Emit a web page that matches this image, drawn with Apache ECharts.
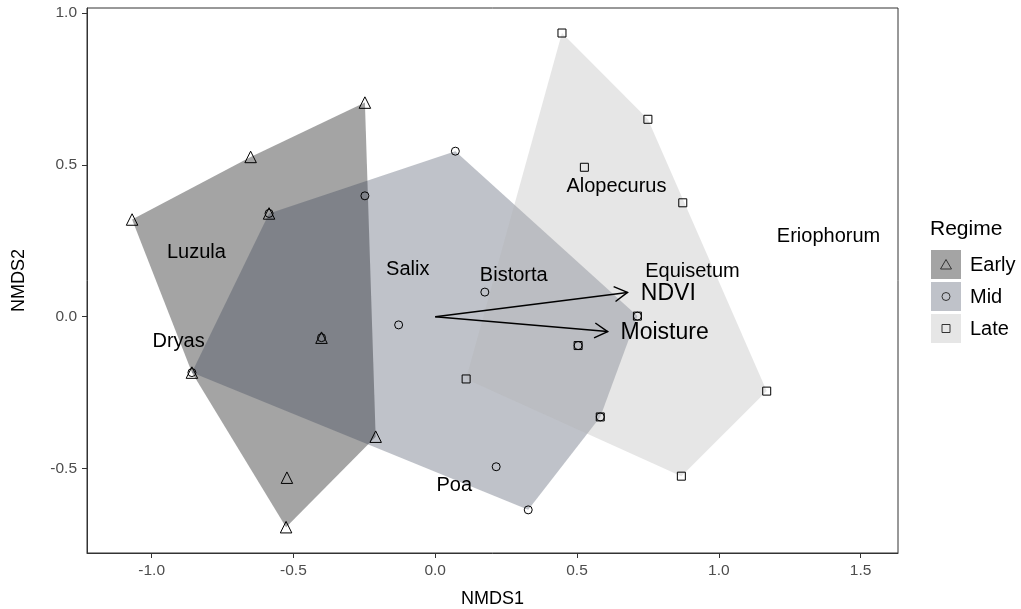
<!DOCTYPE html>
<html>
<head>
<meta charset="utf-8">
<script src="https://cdn.jsdelivr.net/npm/echarts@6/dist/echarts.min.js"></script>
<style>
  html, body { margin: 0; padding: 0; background: #fff; }
  #chart { width: 1021px; height: 609px; }
</style>
</head>
<body>
<div id="chart"></div>
<script>
// Site scores (NMDS1, NMDS2) by regime
const earlyX = [-1.069, -0.651, -0.248, -0.586, -0.401, -0.858, -0.210, -0.523, -0.526];
const earlyY = [0.320, 0.526, 0.705, 0.340, -0.069, -0.184, -0.395, -0.530, -0.693];
const midX = [-0.586, -0.858, -0.401, -0.248, 0.071, -0.129, 0.175, 0.215, 0.328, 0.713, 0.582, 0.504];
const midY = [0.340, -0.184, -0.069, 0.398, 0.545, -0.027, 0.081, -0.494, -0.636, 0.002, -0.330, -0.095];
const lateX = [0.447, 0.750, 0.526, 0.873, 0.713, 0.504, 0.109, 0.582, 1.169, 0.868];
const lateY = [0.934, 0.650, 0.492, 0.375, 0.002, -0.095, -0.205, -0.330, -0.245, -0.525];

// Species scores
const speciesNames = ['Luzula', 'Dryas', 'Salix', 'Bistorta', 'Alopecurus', 'Equisetum', 'Eriophorum', 'Poa'];
const speciesX = [-0.842, -0.905, -0.097, 0.277, 0.639, 0.907, 1.387, 0.067];
const speciesY = [0.211, -0.082, 0.154, 0.137, 0.428, 0.148, 0.265, -0.557];

// Environmental vectors
const vectorNames = ['NDVI', 'Moisture'];
const vectorX = [0.678, 0.608];
const vectorY = [0.080, -0.049];
const vectorLabelX = [0.822, 0.809];
const vectorLabelY = [0.077, -0.053];

// Axis ticks
const xTicks = [-1.0, -0.5, 0.0, 0.5, 1.0, 1.5];
const yTicks = [-0.5, 0.0, 0.5, 1.0];

const regimes = ['Early', 'Mid', 'Late'];
const fills = ['rgba(73,73,73,0.5)', 'rgba(43,53,76,0.3)', 'rgba(179,179,179,0.33)'];
const keyFills = ['#a4a4a4', '#bfc2c9', '#e6e6e6'];
const shapes = ['triangle', 'circle', 'rect'];

const zip = (xs, ys) => xs.map((x, i) => [x, ys[i]]);
const groups = [zip(earlyX, earlyY), zip(midX, midY), zip(lateX, lateY)];

// Convex hull (monotone chain)
function hull(pts) {
  const p = pts.slice().sort((a, b) => a[0] - b[0] || a[1] - b[1]);
  const cross = (o, a, b) => (a[0] - o[0]) * (b[1] - o[1]) - (a[1] - o[1]) * (b[0] - o[0]);
  const lower = [], upper = [];
  for (const q of p) {
    while (lower.length >= 2 && cross(lower[lower.length - 2], lower[lower.length - 1], q) <= 0) lower.pop();
    lower.push(q);
  }
  for (let i = p.length - 1; i >= 0; i--) {
    const q = p[i];
    while (upper.length >= 2 && cross(upper[upper.length - 2], upper[upper.length - 1], q) <= 0) upper.pop();
    upper.push(q);
  }
  upper.pop(); lower.pop();
  return lower.concat(upper);
}

const FONT = '"Liberation Sans", Arial, sans-serif';

const series = [];

// Hull polygons
groups.forEach((g, i) => {
  const h = hull(g);
  series.push({
    type: 'custom',
    name: regimes[i] + ' hull',
    silent: true,
    z: 1,
    data: [[0, 0]],
    renderItem: (params, api) => ({
      type: 'polygon',
      shape: { points: h.map(p => api.coord(p)) },
      style: { fill: fills[i], stroke: null }
    })
  });
});

// Vector arrows
series.push({
  type: 'custom',
  name: 'vectors',
  silent: true,
  z: 3,
  data: vectorNames.map((n, i) => [vectorX[i], vectorY[i]]),
  renderItem: (params, api) => {
    const o = api.coord([0, 0]);
    const t = api.coord([api.value(0), api.value(1)]);
    const a = Math.atan2(t[1] - o[1], t[0] - o[0]);
    const L = 15, w = Math.PI / 6;
    const p1 = [t[0] - L * Math.cos(a - w), t[1] - L * Math.sin(a - w)];
    const p2 = [t[0] - L * Math.cos(a + w), t[1] - L * Math.sin(a + w)];
    return {
      type: 'group',
      children: [
        { type: 'line', shape: { x1: o[0], y1: o[1], x2: t[0], y2: t[1] }, style: { stroke: '#000', lineWidth: 1.5 } },
        { type: 'polyline', shape: { points: [p1, t, p2] }, style: { stroke: '#000', lineWidth: 1.5, fill: null } }
      ]
    };
  }
});

// Site points
groups.forEach((g, i) => {
  series.push({
    type: 'scatter',
    name: regimes[i],
    z: 4,
    data: g,
    symbol: shapes[i],
    symbolSize: i === 0 ? 11.5 : 8,
    itemStyle: { color: 'rgba(0,0,0,0)', borderColor: '#000', borderWidth: 1, opacity: 1 },
    emphasis: { disabled: true }
  });
});

// Species labels
series.push({
  type: 'custom',
  name: 'species',
  silent: true,
  z: 5,
  data: speciesNames.map((n, i) => [speciesX[i], speciesY[i], n]),
  renderItem: (params, api) => {
    const c = api.coord([api.value(0), api.value(1)]);
    return {
      type: 'text',
      style: {
        x: c[0], y: c[1], text: speciesNames[params.dataIndex],
        font: '20px ' + FONT, fill: '#000', align: 'center', verticalAlign: 'middle'
      }
    };
  }
});

// Vector labels
series.push({
  type: 'custom',
  name: 'vectorLabels',
  silent: true,
  z: 5,
  data: vectorNames.map((n, i) => [vectorLabelX[i], vectorLabelY[i], n]),
  renderItem: (params, api) => {
    const c = api.coord([api.value(0), api.value(1)]);
    return {
      type: 'text',
      style: {
        x: c[0], y: c[1], text: vectorNames[params.dataIndex],
        font: '23px ' + FONT, fill: '#000', align: 'center', verticalAlign: 'middle'
      }
    };
  }
});

// Legend drawn as graphic elements
const legendGraphics = [{
  type: 'text', left: 930, top: 219,
  style: { text: 'Regime', font: '21px ' + FONT, fill: '#000' }
}];
regimes.forEach((r, i) => {
  const y0 = 250 + i * 32;
  legendGraphics.push({ type: 'rect', shape: { x: 931, y: y0, width: 30, height: 29 }, style: { fill: keyFills[i] } });
  const cx = 946, cy = y0 + 14.5;
  if (i === 0) {
    legendGraphics.push({ type: 'polygon', shape: { points: [[cx, cy - 5], [cx + 5.5, cy + 4.5], [cx - 5.5, cy + 4.5]] }, style: { fill: null, stroke: '#333', lineWidth: 1 } });
  } else if (i === 1) {
    legendGraphics.push({ type: 'circle', shape: { cx: cx, cy: cy, r: 4 }, style: { fill: null, stroke: '#333', lineWidth: 1 } });
  } else {
    legendGraphics.push({ type: 'rect', shape: { x: cx - 4, y: cy - 4, width: 8, height: 8 }, style: { fill: null, stroke: '#333', lineWidth: 1 } });
  }
  legendGraphics.push({
    type: 'text', left: 970, top: cy - 9,
    style: { text: r, font: '20px ' + FONT, fill: '#000' }
  });
});

const chart = echarts.init(document.getElementById('chart'), null, { renderer: 'canvas' });
chart.setOption({
  animation: false,
  backgroundColor: '#fff',
  grid: {
    left: 87, right: 123, top: 8, bottom: 56,
    outerBoundsMode: 'none', containLabel: false,
    show: true, borderColor: '#333', borderWidth: 1, backgroundColor: 'transparent'
  },
  xAxis: {
    type: 'value', min: -1.228, max: 1.632,
    name: 'NMDS1', nameLocation: 'middle', nameGap: 37,
    nameTextStyle: { fontSize: 18, fontFamily: FONT, color: '#000' },
    axisLine: { show: true, onZero: false, lineStyle: { color: '#333', width: 1 } },
    axisTick: { show: true, length: 5, customValues: xTicks, lineStyle: { color: '#333', width: 1 } },
    axisLabel: { customValues: xTicks, formatter: v => v.toFixed(1), color: '#4d4d4d', fontSize: 15.5, fontFamily: FONT, margin: 10 },
    splitLine: { show: false }
  },
  yAxis: {
    type: 'value', min: -0.778, max: 1.0164,
    name: 'NMDS2', nameLocation: 'middle', nameGap: 59, nameRotate: 90,
    nameTextStyle: { fontSize: 18, fontFamily: FONT, color: '#000' },
    axisLine: { show: true, onZero: false, lineStyle: { color: '#333', width: 1 } },
    axisTick: { show: true, length: 5, customValues: yTicks, lineStyle: { color: '#333', width: 1 } },
    axisLabel: { customValues: yTicks, formatter: v => v.toFixed(1), color: '#4d4d4d', fontSize: 15.5, fontFamily: FONT, margin: 10 },
    splitLine: { show: false }
  },
  graphic: legendGraphics,
  series: series
});
</script>
</body>
</html>
